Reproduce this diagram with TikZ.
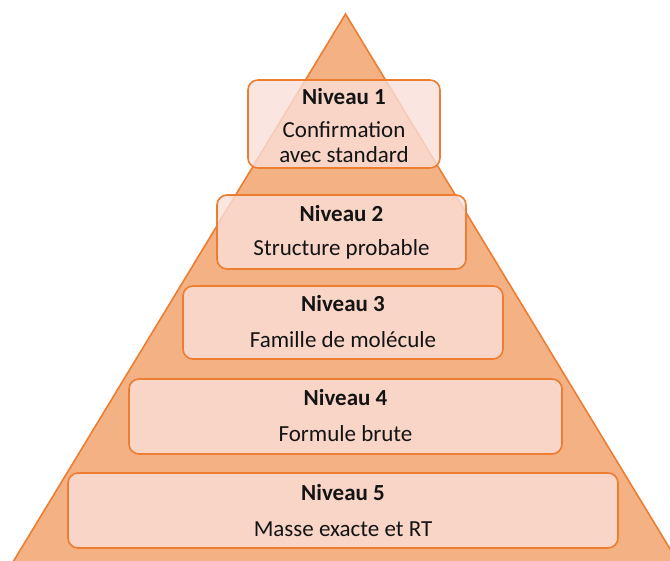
\documentclass[tikz,border=0pt]{standalone}
\usepackage{fontspec}
\setmainfont{Carlito}
\definecolor{triFill}{RGB}{244,177,131}
\definecolor{triLine}{RGB}{237,125,49}
\definecolor{boxFill}{RGB}{250,222,217}
\definecolor{txt}{RGB}{20,20,20}
\begin{document}
\begin{tikzpicture}[x=1pt,y=-1pt,
  lvlbox/.style={draw=triLine,line width=1.6pt,fill=boxFill,fill opacity=0.8,rounded corners=10pt},
  ttl/.style={font=\fontsize{23}{26}\selectfont\bfseries,text=txt,inner sep=0pt},
  sub/.style={font=\fontsize{23}{25}\selectfont,text=txt,inner sep=0pt,align=center}]
\useasboundingbox (0,0) rectangle (670,561);
\begin{scope}
\clip (0,0) rectangle (670,561);
\draw[fill=triFill,draw=triLine,line width=1.6pt] (345.5,14) -- (13,562) -- (678,562) -- cycle;
\end{scope}
\draw[lvlbox] (248,80) rectangle (440,168);
\draw[lvlbox] (217,195) rectangle (466,269);
\draw[lvlbox] (183,286) rectangle (503,359);
\draw[lvlbox] (129,379) rectangle (562,454);
\draw[lvlbox] (68,473) rectangle (618,548);
\node[ttl] (t1) at (344,97) {Niveau 1};
\node[sub] (s1) at (344,142.5) {Confirmation\\avec standard};
\node[ttl] (t2) at (341.5,214) {Niveau 2};
\node[sub] (s2) at (341.5,249) {Structure probable};
\node[ttl] (t3) at (343,304) {Niveau 3};
\node[sub] (s3) at (343,340) {Famille de molécule};
\node[ttl] (t4) at (345.5,398) {Niveau 4};
\node[sub] (s4) at (345.5,434) {Formule brute};
\node[ttl] (t5) at (343,493) {Niveau 5};
\node[sub] (s5) at (343,529) {Masse exacte et RT};
\end{tikzpicture}
\end{document}
